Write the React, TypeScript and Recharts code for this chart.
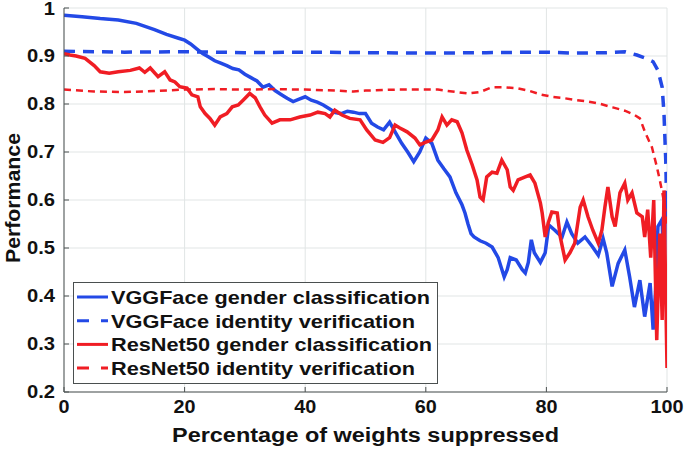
import { CartesianGrid, Label, Legend, Line, LineChart, XAxis, YAxis } from "recharts";

// x = percentage of weights suppressed, y = performance
const xTicks = [0, 20, 40, 60, 80, 100];
const yTicks = [0.2, 0.3, 0.4, 0.5, 0.6, 0.7, 0.8, 0.9, 1];

const vggGender: [number, number][] = [
  [0, 0.985], [3, 0.982], [6, 0.978], [9, 0.975], [12, 0.968], [15, 0.955], [17, 0.945], [19, 0.937],
  [20, 0.933], [21, 0.925], [22, 0.915], [23, 0.905], [24, 0.898], [25, 0.89], [26, 0.885], [27, 0.88],
  [28, 0.874], [29, 0.871], [30, 0.862], [31, 0.855], [32, 0.848], [33, 0.835], [34, 0.84], [35, 0.828],
  [36, 0.82], [37, 0.812], [38, 0.805], [39, 0.81], [40, 0.815], [41, 0.808], [42, 0.804], [43, 0.798],
  [44, 0.79], [45, 0.782], [46, 0.78], [47, 0.785], [48, 0.783], [49, 0.78], [50, 0.78], [51, 0.76],
  [52, 0.752], [53, 0.746], [54, 0.762], [55, 0.74], [56, 0.718], [57, 0.7], [58, 0.68], [59, 0.7],
  [60, 0.729], [61, 0.718], [62, 0.683], [63, 0.665], [64, 0.648], [65, 0.615], [66, 0.59], [66.5, 0.573],
  [67, 0.55], [67.5, 0.53], [68, 0.523], [69, 0.515], [70, 0.51], [71, 0.502], [72, 0.48], [72.5, 0.46],
  [73, 0.44], [73.5, 0.455], [74, 0.48], [75, 0.475], [76, 0.455], [76.5, 0.448], [77, 0.47], [77.5, 0.517],
  [78, 0.49], [79, 0.47], [79.8, 0.49], [80.4, 0.548], [81.4, 0.537], [82, 0.53], [82.6, 0.523], [83.4, 0.554],
  [84.2, 0.53], [85.2, 0.51], [86.4, 0.523], [87.6, 0.503], [88.6, 0.485], [89.4, 0.52], [90, 0.49],
  [90.9, 0.42], [91.9, 0.468], [93, 0.496], [93.8, 0.44], [94.6, 0.377], [95.5, 0.433], [96.3, 0.357],
  [97.2, 0.427], [97.7, 0.33], [98.1, 0.41], [98.5, 0.545], [99.2, 0.56], [99.5, 0.4], [99.7, 0.58], [100, 0.6],
];

const vggIdentity: [number, number][] = [
  [0, 0.91], [10, 0.908], [20, 0.909], [30, 0.907], [40, 0.908], [50, 0.907], [60, 0.906], [70, 0.907],
  [80, 0.908], [85, 0.906], [90, 0.907], [93, 0.909], [95, 0.902], [96.5, 0.895], [97.7, 0.888],
  [98.5, 0.87], [99.2, 0.835], [99.5, 0.78], [99.8, 0.68], [100, 0.55],
];

const resGender: [number, number][] = [
  [0, 0.905], [1, 0.902], [2, 0.9], [3.5, 0.895], [5, 0.88], [6, 0.867], [7.5, 0.864], [9, 0.867],
  [11, 0.87], [12.5, 0.875], [13.4, 0.866], [14.3, 0.875], [15.6, 0.857], [16.7, 0.867], [17.6, 0.85],
  [18.4, 0.846], [19.2, 0.836], [20.4, 0.833], [21.2, 0.819], [22.2, 0.815], [22.6, 0.794], [23.4, 0.78],
  [24.2, 0.77], [25, 0.756], [25.9, 0.773], [27, 0.78], [27.9, 0.794], [28.9, 0.798], [29.7, 0.808],
  [30.8, 0.822], [31.7, 0.813], [32.5, 0.794], [33.3, 0.777], [34.5, 0.76], [35.8, 0.767], [37.5, 0.767],
  [39.1, 0.773], [40.8, 0.777], [42.1, 0.783], [43.3, 0.78], [44.1, 0.773], [44.9, 0.787], [46.1, 0.777],
  [47.4, 0.77], [49.1, 0.767], [50.2, 0.746], [51.6, 0.725], [52.9, 0.72], [54, 0.73], [54.9, 0.756],
  [55.7, 0.75], [56.9, 0.742], [58.2, 0.729], [59, 0.715], [59.9, 0.72], [61, 0.725], [62, 0.746],
  [62.7, 0.773], [63.5, 0.756], [64.3, 0.767], [65.2, 0.763], [66, 0.74], [66.8, 0.704], [67.7, 0.673],
  [68.5, 0.642], [69, 0.606], [69.5, 0.6], [70.1, 0.648], [71, 0.658], [71.8, 0.656], [72.6, 0.683],
  [73.5, 0.663], [74, 0.627], [74.5, 0.62], [75.3, 0.642], [76.5, 0.648], [77.3, 0.652], [78.1, 0.635],
  [79, 0.594], [79.3, 0.573], [79.8, 0.523], [80.3, 0.552], [80.9, 0.575], [81.8, 0.573], [82.3, 0.523],
  [83.1, 0.475], [83.9, 0.49], [84.7, 0.51], [85.6, 0.585], [86.1, 0.6], [86.9, 0.565], [87.7, 0.537],
  [88.6, 0.51], [89.2, 0.537], [89.7, 0.585], [90.2, 0.627], [90.9, 0.565], [91.4, 0.545], [92.2, 0.615],
  [93, 0.635], [93.5, 0.6], [94.2, 0.615], [95, 0.573], [95.9, 0.565], [96.3, 0.523], [96.8, 0.58],
  [97.3, 0.48], [97.8, 0.6], [98.3, 0.308], [98.8, 0.53], [99.2, 0.35], [99.5, 0.62], [100, 0.25],
];

const resIdentity: [number, number][] = [
  [0, 0.83], [5, 0.826], [10, 0.825], [15, 0.827], [20, 0.83], [25, 0.831], [30, 0.83], [35, 0.831],
  [40, 0.83], [45, 0.828], [48, 0.826], [50, 0.828], [55, 0.83], [60, 0.83], [62, 0.83], [65, 0.825],
  [67, 0.822], [69, 0.825], [71, 0.835], [73, 0.835], [75, 0.833], [77, 0.828], [79, 0.82], [81, 0.815],
  [83, 0.812], [85, 0.808], [87, 0.805], [89, 0.8], [91, 0.793], [93, 0.786], [94.5, 0.778], [95.5, 0.77],
  [96.4, 0.74], [97.5, 0.71], [98.3, 0.67], [98.8, 0.642], [99.3, 0.61], [99.7, 0.58], [100, 0.55],
];

const BLUE = "#2349e6";
const RED = "#f01d24";
const FONT = "'Liberation Sans', Arial, Helvetica, sans-serif";

const series = [
  { name: "VGGFace gender classification", points: vggGender, color: BLUE, width: 3.5, dash: undefined, legendDash: undefined, textWidth: 319 },
  { name: "VGGFace identity verification", points: vggIdentity, color: BLUE, width: 3.5, dash: "11 8", legendDash: "12 12", textWidth: 304 },
  { name: "ResNet50 gender classification", points: resGender, color: RED, width: 3.5, dash: undefined, legendDash: undefined, textWidth: 321 },
  { name: "ResNet50 identity verification", points: resIdentity, color: RED, width: 2.5, dash: "7 5", legendDash: "12 12", textWidth: 304 },
];

const toRows = (pairs: [number, number][]) => pairs.map(([x, y]) => ({ x, y }));

function XTick(props: any) {
  const { x, y, payload } = props;
  return (
    <text transform={`translate(${x},${y + 16}) scale(1.1,1)`} textAnchor="middle" fontSize={18}
      fontWeight="bold" fontFamily={FONT} fill="#111">
      {payload.value}
    </text>
  );
}

function YTick(props: any) {
  const { x, y, payload } = props;
  const v = payload.value;
  return (
    <text transform={`translate(${x},${y}) scale(1.12,1)`} dy="0.36em" textAnchor="end" fontSize={18}
      fontWeight="bold" fontFamily={FONT} fill="#111">
      {v === 1 ? "1" : v.toFixed(1)}
    </text>
  );
}

function XTitle(props: any) {
  const vb = props.viewBox;
  return (
    <text x={vb.x + vb.width / 2} y={vb.y + 50} textAnchor="middle" fontSize={20} fontWeight="bold"
      fontFamily={FONT} fill="#111" textLength={387} lengthAdjust="spacingAndGlyphs">
      Percentage of weights suppressed
    </text>
  );
}

function YTitle(props: any) {
  const vb = props.viewBox;
  const cx = 20;
  const cy = vb.y + vb.height / 2 - 2;
  return (
    <text x={cx} y={cy} transform={`rotate(-90, ${cx}, ${cy})`} textAnchor="middle" fontSize={20}
      fontWeight="bold" fontFamily={FONT} fill="#111" textLength={130} lengthAdjust="spacingAndGlyphs">
      Performance
    </text>
  );
}

function LegendBox() {
  return (
    <svg width={366} height={103} style={{ display: "block" }}>
      <rect x={0.5} y={0.5} width={364} height={101} fill="#fff" stroke="#4a4f4f" strokeWidth={1} />
      {series.map((s, i) => {
        const cy = 15 + i * 23.7;
        return (
          <g key={s.name}>
            <line x1={4} x2={35} y1={cy} y2={cy} stroke={s.color} strokeWidth={3} strokeDasharray={s.legendDash} />
            <text x={38} y={cy} dy="0.36em" fontSize={19} fontWeight="bold" fontFamily={FONT} fill="#111"
              textLength={s.textWidth} lengthAdjust="spacingAndGlyphs">
              {s.name}
            </text>
          </g>
        );
      })}
    </svg>
  );
}

export default function App() {
  return (
    <div style={{ position: "absolute", left: 0, top: 0, width: 685, height: 449, background: "#fff" }}>
      <LineChart width={685} height={449} margin={{ top: 8, right: 18, bottom: 0, left: 0 }}>
        <CartesianGrid stroke="#e1e5e5" strokeWidth={1} />
        <XAxis
          type="number"
          dataKey="x"
          domain={[0, 100]}
          ticks={xTicks}
          height={57}
          tickSize={-5}
          tickMargin={10}
          tick={<XTick />}
          stroke="#4d5252"
          allowDataOverflow
        >
          <Label content={<XTitle />} />
        </XAxis>
        <YAxis
          type="number"
          dataKey="y"
          domain={[0.2, 1]}
          ticks={yTicks}
          width={64}
          tickSize={-5}
          tickMargin={14}
          tick={<YTick />}
          stroke="#4d5252"
          allowDataOverflow
        >
          <Label content={<YTitle />} />
        </YAxis>
        {series.map((s) => (
          <Line
            key={s.name}
            name={s.name}
            data={toRows(s.points)}
            dataKey="y"
            type="linear"
            stroke={s.color}
            strokeWidth={s.width}
            strokeDasharray={s.dash}
            dot={false}
            activeDot={false}
            isAnimationActive={false}
          />
        ))}
        <Legend
          layout="horizontal"
          verticalAlign="middle"
          align="center"
          content={<LegendBox />}
          wrapperStyle={{ left: 73, top: 282, width: 366, height: 103 }}
        />
      </LineChart>
    </div>
  );
}
